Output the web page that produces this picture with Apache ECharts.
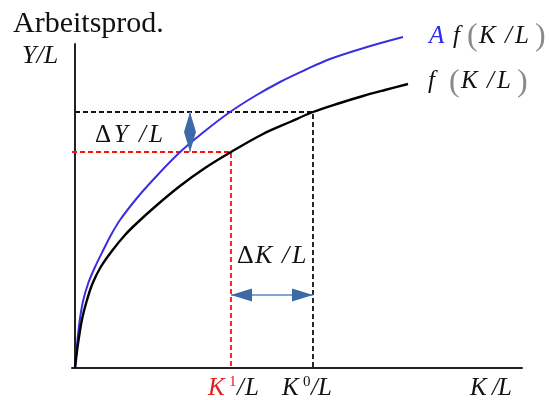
<!DOCTYPE html>
<html>
<head>
<meta charset="utf-8">
<script src="https://cdn.jsdelivr.net/npm/echarts@6/dist/echarts.min.js"></script>
<style>
  html, body { margin: 0; padding: 0; background: #fff; }
  #chart { width: 549px; height: 400px; }
</style>
</head>
<body>
<div id="chart"></div>
<script>
// Production function per worker: points [K/L, Y/L]
const baseCurve = [
  [0, 0], [2, 17], [4.3, 33], [7.3, 50], [11.7, 67], [17.3, 84], [25.7, 101],
  [37.7, 118], [50, 133], [62, 145], [82, 163], [105, 182], [130, 200],
  [156, 216], [188, 234], [215, 246], [238, 256], [265, 265], [288, 272],
  [310, 278], [333, 284]
];
// Same function scaled by technology level A
const shiftedCurve = [
  [0, 0], [1.5, 17], [3.2, 35], [5.2, 51], [8.3, 68], [13.3, 85], [20, 101],
  [28.3, 118], [36, 133], [45, 148], [62, 170], [77, 187], [103, 214], [130, 237],
  [155, 256], [180, 272], [205, 286], [230, 298], [255, 309], [292, 321],
  [328, 331]
];
// Capital intensities and the matching output levels
const k1 = 156, y1 = 216;
const k0 = 238, y0 = 256;
// Double arrows: [xStart, yStart, xEnd, yEnd]
const deltaYArrow = [[115, y1, 115, y0]];
const deltaKArrow = [[k1, 73, k0, 73]];

const SERIF = "'Liberation Serif', 'Times New Roman', serif";

function doubleArrow(headLen, headHalf, lineColor, headColor) {
  return function (params, api) {
    const a = api.coord([api.value(0), api.value(1)]);
    const b = api.coord([api.value(2), api.value(3)]);
    const dx = b[0] - a[0], dy = b[1] - a[1];
    const len = Math.sqrt(dx * dx + dy * dy);
    const ux = dx / len, uy = dy / len;
    const px = -uy, py = ux;
    const head = (tip, dir) => [
      tip,
      [tip[0] + dir * ux * headLen + px * headHalf, tip[1] + dir * uy * headLen + py * headHalf],
      [tip[0] + dir * ux * headLen - px * headHalf, tip[1] + dir * uy * headLen - py * headHalf]
    ];
    return {
      type: 'group',
      children: [
        { type: 'line', shape: { x1: a[0], y1: a[1], x2: b[0], y2: b[1] },
          style: { stroke: lineColor, lineWidth: 1.5 } },
        { type: 'polygon', shape: { points: head(a, 1) }, style: { fill: headColor } },
        { type: 'polygon', shape: { points: head(b, -1) }, style: { fill: headColor } }
      ]
    };
  };
}

// Math-style label: each glyph placed on its own, vertically centred on y
function mathLabel(y, size, parts) {
  return parts.map(function (p) {
    const s = p.size || size;
    return {
      type: 'text', z: 10,
      style: {
        text: p.t, x: p.x, y: y + (p.dy || 0),
        align: 'left', verticalAlign: 'middle',
        font: (p.up ? '' : 'italic ') + s + 'px ' + SERIF,
        fill: p.c || '#111'
      }
    };
  });
}

const BLUE_TXT = '#2a2af0';
const RED_TXT = '#e02020';
const PAREN = '#8a8a8a';

const labels = [].concat(
  [{ type: 'text', z: 10, style: { text: 'Arbeitsprod.', x: 13, y: 24, verticalAlign: 'middle',
      font: '30px ' + SERIF, fill: '#111' } }],
  mathLabel(56, 26, [{ t: 'Y/L', x: 22 }]),
  mathLabel(36, 25, [
    { t: 'A', x: 429, c: BLUE_TXT }, { t: 'f', x: 453 },
    { t: '(', x: 467, up: true, size: 32, c: PAREN, dy: 1 },
    { t: 'K', x: 479 }, { t: '/', x: 505 }, { t: 'L', x: 515 },
    { t: ')', x: 535, up: true, size: 32, c: PAREN, dy: 1 }
  ]),
  mathLabel(81, 25, [
    { t: 'f', x: 428 },
    { t: '(', x: 449, up: true, size: 32, c: PAREN, dy: 2 },
    { t: 'K', x: 461 }, { t: '/', x: 487 }, { t: 'L', x: 497 },
    { t: ')', x: 517, up: true, size: 32, c: PAREN, dy: 2 }
  ]),
  mathLabel(135, 25, [
    { t: '\u0394', x: 95, up: true }, { t: 'Y', x: 114 }, { t: '/', x: 139 }, { t: 'L', x: 149 }
  ]),
  mathLabel(256, 26, [
    { t: '\u0394', x: 237, up: true }, { t: 'K', x: 255 }, { t: '/', x: 282 }, { t: 'L', x: 292 }
  ]),
  mathLabel(388, 25, [
    { t: 'K', x: 208, c: RED_TXT }, { t: '1', x: 229, up: true, size: 15, c: RED_TXT, dy: -6 },
    { t: '/', x: 237 }, { t: 'L', x: 245 }
  ]),
  mathLabel(388, 25, [
    { t: 'K', x: 282 }, { t: '0', x: 303, up: true, size: 15, dy: -6 },
    { t: '/', x: 311 }, { t: 'L', x: 318 }
  ]),
  mathLabel(388, 25, [
    { t: 'K', x: 470 }, { t: '/', x: 492 }, { t: 'L', x: 498 }
  ])
);

const chart = echarts.init(document.getElementById('chart'), null, { renderer: 'canvas' });

chart.setOption({
  animation: false,
  backgroundColor: '#fff',
  grid: { left: 72, top: 44, width: 450, height: 324, containLabel: false },
  xAxis: {
    type: 'value', min: -3, max: 447,
    axisLine: { show: true, onZero: false, lineStyle: { color: '#222', width: 2 } },
    axisTick: { show: false }, axisLabel: { show: false }, splitLine: { show: false }
  },
  yAxis: {
    type: 'value', min: 0, max: 324,
    axisLine: { show: true, onZero: true, lineStyle: { color: '#222', width: 2 } },
    axisTick: { show: false }, axisLabel: { show: false }, splitLine: { show: false }
  },
  series: [
    {
      type: 'line', data: [[-3, y1], [k1, y1], [k1, 0]], symbol: 'none',
      lineStyle: { color: '#ff1010', width: 1.8, type: [5, 3] }, z: 2
    },
    {
      type: 'line', data: [[0, y0], [k0, y0], [k0, 0]], symbol: 'none',
      lineStyle: { color: '#111', width: 1.8, type: [5, 3] }, z: 2
    },
    {
      type: 'line', data: shiftedCurve, smooth: 0.35, clip: false, symbol: 'none',
      lineStyle: { color: '#3a2ee0', width: 2 }, z: 3
    },
    {
      type: 'line', data: baseCurve, smooth: 0.35, clip: false, symbol: 'none',
      lineStyle: { color: '#000', width: 2.4 }, z: 3
    },
    {
      type: 'custom', data: deltaYArrow, encode: { x: [0, 2], y: [1, 3] },
      renderItem: doubleArrow(20, 6, '#8fa9cc', '#3c6aa6'), z: 4
    },
    {
      type: 'custom', data: deltaKArrow, encode: { x: [0, 2], y: [1, 3] },
      renderItem: doubleArrow(21, 6.5, '#5b86c0', '#3c6aa6'), z: 4
    }
  ],
  graphic: labels
});
</script>
</body>
</html>
